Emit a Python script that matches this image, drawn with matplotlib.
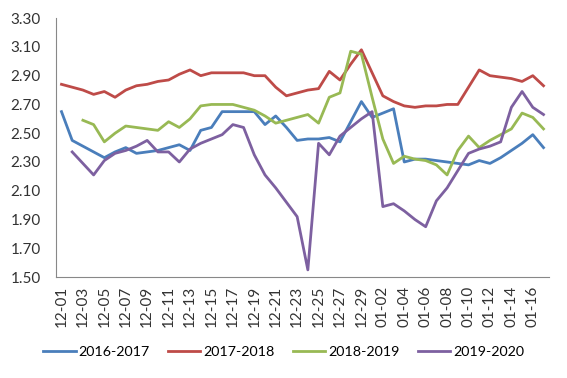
import numpy as np
import matplotlib.pyplot as plt

plt.rcParams['font.family'] = ['Lato', 'DejaVu Sans']

dates = ['12-%02d' % d for d in range(1, 30)] + ['12-31'] + ['01-%02d' % d for d in range(2, 18)]

s2016 = [2.65, 2.45, 2.41, 2.37, 2.33, 2.37, 2.40, 2.36, 2.37, 2.38,
         2.40, 2.42, 2.38, 2.52, 2.54, 2.65, 2.65, 2.65, 2.65, 2.56,
         2.62, 2.54, 2.45, 2.46, 2.46, 2.47, 2.44, 2.58, 2.72, 2.61,
         2.64, 2.67, 2.30, 2.32, 2.32, 2.31, 2.30, 2.29, 2.28, 2.31,
         2.29, 2.33, 2.38, 2.43, 2.49, 2.40]
s2017 = [2.84, 2.82, 2.80, 2.77, 2.79, 2.75, 2.80, 2.83, 2.84, 2.86,
         2.87, 2.91, 2.94, 2.90, 2.92, 2.92, 2.92, 2.92, 2.90, 2.90,
         2.82, 2.76, 2.78, 2.80, 2.81, 2.93, 2.87, 2.98, 3.08, 2.92,
         2.76, 2.72, 2.69, 2.68, 2.69, 2.69, 2.70, 2.70, 2.82, 2.94,
         2.90, 2.89, 2.88, 2.86, 2.90, 2.83]
s2018 = [np.nan, np.nan, 2.59, 2.56, 2.44, 2.50, 2.55, 2.54, 2.53, 2.52,
         2.58, 2.54, 2.60, 2.69, 2.70, 2.70, 2.70, 2.68, 2.66, 2.62,
         2.57, 2.59, 2.61, 2.63, 2.57, 2.75, 2.78, 3.07, 3.05, 2.75,
         2.46, 2.29, 2.34, 2.32, 2.31, 2.28, 2.21, 2.38, 2.48, 2.40,
         2.45, 2.49, 2.53, 2.64, 2.61, 2.53]
s2019 = [np.nan, 2.37, 2.29, 2.21, 2.31, 2.36, 2.38, 2.41, 2.45, 2.37,
         2.37, 2.30, 2.39, 2.43, 2.46, 2.49, 2.56, 2.54, 2.35, 2.21,
         2.12, 2.02, 1.92, 1.55, 2.43, 2.35, 2.48, 2.54, 2.60, 2.65,
         1.99, 2.01, 1.96, 1.90, 1.85, 2.03, 2.12, 2.24, 2.36, 2.39,
         2.41, 2.44, 2.68, 2.79, 2.68, 2.63]

series = [('2016-2017', s2016, '#4A7EBB'),
          ('2017-2018', s2017, '#BE4B48'),
          ('2018-2019', s2018, '#98B954'),
          ('2019-2020', s2019, '#7D60A0')]

fig = plt.figure(figsize=(5.67, 3.78), dpi=100)
ax = fig.add_axes([0.099, 0.267, 0.869, 0.685])

x = np.arange(len(dates))
for name, vals, col in series:
    ax.plot(x, vals, color=col, lw=2.0, label=name, solid_joinstyle='round')

ax.set_xlim(-0.5, len(dates) - 0.5)
ax.set_ylim(1.5, 3.3)
ax.set_yticks(np.arange(1.5, 3.31, 0.2))
ax.set_yticklabels(['%.2f' % v for v in np.arange(1.5, 3.31, 0.2)], fontsize=11, color='#333333')
ax.set_xticks(x[::2])
ax.set_xticklabels(dates[::2], rotation=90, fontsize=11, color='#333333')
ax.tick_params(length=0)
ax.tick_params(axis='y', pad=11)
ax.tick_params(axis='x', pad=6)

for s in ['top', 'right']:
    ax.spines[s].set_visible(False)
for s in ['left', 'bottom']:
    ax.spines[s].set_color('#888888')
    ax.spines[s].set_linewidth(0.8)

fig.legend(loc='center', bbox_to_anchor=(0.5, 0.069), ncol=4, frameon=False,
           fontsize=10.3, handlelength=2.3, columnspacing=1.25, handletextpad=0.2)

fig.savefig('out.png', dpi=100)
